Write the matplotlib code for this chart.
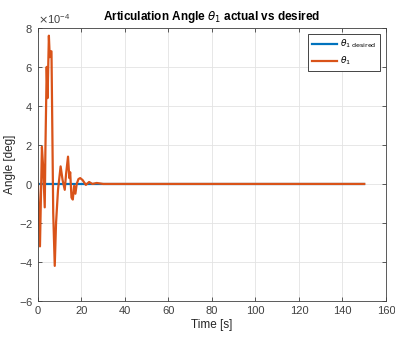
import numpy as np
import matplotlib.pyplot as plt
from matplotlib.ticker import ScalarFormatter

plt.rcParams['font.family'] = ['Liberation Sans', 'DejaVu Sans']

# Traced values (time in s, angle in deg)
t_actual = [0, 0.9, 1.8, 2.3, 3.1, 3.4, 4.0, 4.4, 5.0, 5.4, 5.8, 6.2, 7.0, 7.7,
            8.3, 9.2, 10.4, 11.3, 12.3, 12.9, 13.8, 14.4, 14.8, 15.4, 16.0,
            16.6, 17.2, 17.8, 18.6, 19.4, 20.5, 22.0, 23.5, 25.0, 27.0, 30.0,
            35.0, 40.0, 150.0]
theta_actual = [0, -3.2e-4, 1.9e-4, 1.0e-4, -1.2e-4, 1.7e-4, 6.0e-4, 4.4e-4,
                7.6e-4, 6.5e-4, 6.8e-4, 6.8e-4, -1.5e-4, -4.2e-4,
                -2.0e-4, -0.3e-4, 0.9e-4, 0.2e-4, -0.3e-4, 0.5e-4, 1.4e-4,
                0.3e-4, 0.6e-4, -0.7e-4, -0.8e-4,
                -0.1e-4, -0.5e-4, 0.0, 0.25e-4, 0.3e-4, 0.2e-4, -0.05e-4, 0.1e-4,
                0.0, 0.05e-4, 0.0, 0.0, 0.0, 0.0]
t_desired = [0, 150]
theta_desired = [0, 0]

blue = (0, 0.447, 0.741)
orange = (0.85, 0.325, 0.098)

fig = plt.figure(figsize=(3.95, 3.38), dpi=100)
ax = fig.add_axes([0.0962, 0.1095, 0.881, 0.808])

ax.plot(t_desired, theta_desired, color=blue, lw=1.6, label=r'$\theta_{1\ \mathrm{desired}}$')
ax.plot(t_actual, theta_actual, color=orange, lw=1.6, label=r'$\theta_1$')

ax.set_xlim(0, 160)
ax.set_ylim(-6e-4, 8e-4)
ax.set_xticks(np.arange(0, 161, 20))
ax.set_yticks(np.arange(-6e-4, 8.1e-4, 2e-4))
fmt = ScalarFormatter(useMathText=True)
fmt.set_powerlimits((0, 0))
ax.yaxis.set_major_formatter(fmt)
ax.yaxis.get_offset_text().set_fontsize(8)
ax.yaxis.get_offset_text().set_color('#404040')

ax.grid(True, color='#e3e3e3', lw=0.6)
ax.set_axisbelow(True)
ax.tick_params(direction='in', labelsize=8, colors='#404040', length=3, width=0.6,
               top=True, right=True)
for s in ax.spines.values():
    s.set_color('#404040')
    s.set_linewidth(0.6)

ax.set_xlabel('Time [s]', fontsize=8.5, color='#262626', labelpad=2)
ax.set_ylabel('Angle [deg]', fontsize=8.5, color='#262626', labelpad=2)
ax.set_title(r'Articulation Angle $\theta_1$ actual vs desired', fontsize=8.5,
             fontweight='bold', pad=6)

leg = ax.legend(loc='upper right', fontsize=6.5, fancybox=False, framealpha=1,
                edgecolor='#262626', handlelength=2.8, handletextpad=0.3,
                borderaxespad=0.7)
leg.get_frame().set_linewidth(0.6)

fig.savefig('out.png', dpi=100)
